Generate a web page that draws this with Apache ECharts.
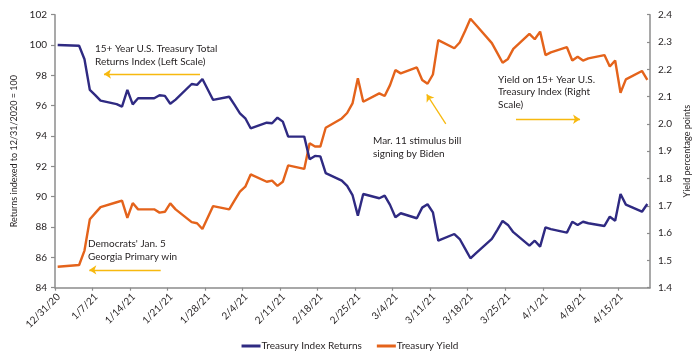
<!DOCTYPE html>
<html>
<head>
<meta charset="utf-8">
<script src="https://cdn.jsdelivr.net/npm/echarts@6/dist/echarts.min.js"></script>
<style>
html,body{margin:0;padding:0;background:#fff;}
#chart{width:700px;height:363px;}
</style>
</head>
<body>
<div id="chart"></div>
<script>
// ---- Data ----
const startDate = '2020-12-31';
const dates = [
  '2020-12-31','2021-01-04','2021-01-05','2021-01-06','2021-01-07','2021-01-08',
  '2021-01-11','2021-01-12','2021-01-13','2021-01-14','2021-01-15',
  '2021-01-18','2021-01-19','2021-01-20','2021-01-21','2021-01-22',
  '2021-01-25','2021-01-26','2021-01-27','2021-01-28','2021-01-29',
  '2021-02-01','2021-02-02','2021-02-03','2021-02-04','2021-02-05',
  '2021-02-08','2021-02-09','2021-02-10','2021-02-11','2021-02-12',
  '2021-02-15','2021-02-16','2021-02-17','2021-02-18','2021-02-19',
  '2021-02-22','2021-02-23','2021-02-24','2021-02-25','2021-02-26',
  '2021-03-01','2021-03-02','2021-03-03','2021-03-04','2021-03-05',
  '2021-03-08','2021-03-09','2021-03-10','2021-03-11','2021-03-12',
  '2021-03-15','2021-03-16','2021-03-17','2021-03-18','2021-03-19',
  '2021-03-22','2021-03-23','2021-03-24','2021-03-25','2021-03-26',
  '2021-03-29','2021-03-30','2021-03-31','2021-04-01','2021-04-02',
  '2021-04-05','2021-04-06','2021-04-07','2021-04-08','2021-04-09',
  '2021-04-12','2021-04-13','2021-04-14','2021-04-15','2021-04-16',
  '2021-04-19','2021-04-20'
];
const treasuryReturns = [
  100.0, 99.95, 99.06, 97.04, 96.7, 96.33,
  96.1, 95.94, 97.04, 96.09, 96.49,
  96.49, 96.69, 96.65, 96.13, 96.4,
  97.43, 97.37, 97.76, 97.07, 96.38,
  96.59, 96.05, 95.5, 95.17, 94.51,
  94.88, 94.84, 95.21, 94.95, 93.96,
  93.96, 92.47, 92.69, 92.66, 91.55,
  91.06, 90.71, 90.11, 88.75, 90.18,
  89.9, 90.07, 89.46, 88.64, 88.91,
  88.58, 89.28, 89.5, 88.97, 87.1,
  87.54, 87.21, 86.58, 85.94, 86.27,
  87.22, 87.8, 88.4, 88.14, 87.66,
  86.77, 87.1, 86.71, 87.98, 87.86,
  87.63, 88.35, 88.14, 88.35, 88.25,
  88.07, 88.68, 88.42, 90.18, 89.48,
  89.01, 89.52
];
const treasuryYield = [
  1.477, 1.483, 1.536, 1.651, 1.673, 1.695,
  1.713, 1.719, 1.656, 1.710, 1.687,
  1.687, 1.675, 1.678, 1.709, 1.687,
  1.640, 1.636, 1.615, 1.657, 1.699,
  1.687, 1.720, 1.752, 1.770, 1.815,
  1.788, 1.792, 1.773, 1.788, 1.848,
  1.835, 1.929, 1.917, 1.917, 1.986,
  2.020, 2.040, 2.075, 2.167, 2.081,
  2.112, 2.102, 2.142, 2.197, 2.185,
  2.207, 2.161, 2.147, 2.181, 2.307,
  2.277, 2.298, 2.340, 2.385, 2.363,
  2.296, 2.260, 2.224, 2.238, 2.275,
  2.330, 2.310, 2.338, 2.252, 2.262,
  2.281, 2.232, 2.246, 2.232, 2.240,
  2.252, 2.210, 2.232, 2.114, 2.163,
  2.194, 2.161
];
const endDate = '2021-04-21';
const seriesNames = ['Treasury Index Returns', 'Treasury Yield'];
const leftTicks = {min: 84, max: 102, step: 2};
const rightTicks = {min: 1.4, max: 2.4, step: 0.1};

// ---- helpers ----
const DAY = 86400000;
function utc(s){ const p = s.split('-').map(Number); return Date.UTC(p[0], p[1]-1, p[2]); }
const t0 = utc(startDate);
function dayNum(s){ return (utc(s) - t0) / DAY; }
function dayLabel(v){
  const d = new Date(t0 + Math.round(v) * DAY);
  return (d.getUTCMonth()+1) + '/' + d.getUTCDate() + '/' + String(d.getUTCFullYear()).slice(2);
}
// points sit in the middle of their day (date axis "between tick marks")
const retData = dates.map((d,i)=>[dayNum(d)+0.5, treasuryReturns[i]]);
const yldData = dates.map((d,i)=>[dayNum(d)+0.5, treasuryYield[i]]);

const FONT = 'Lato';
const TXT = '#231f20';
const AXIS = '#8c8c8c';
const ARROW = '#f7b90f';
const BLUE = '#2f2a82';
const ORANGE = '#e4631b';

function arrow(x1,y1,x2,y2){ return [{coord:[x1,y1]},{coord:[x2,y2]}]; }

const chart = echarts.init(document.getElementById('chart'), null, {renderer:'canvas'});
chart.setOption({
  animation: false,
  backgroundColor: '#fff',
  textStyle: {fontFamily: FONT},
  grid: {left: 55, right: 50, top: 14.7, bottom: 75.3, containLabel: false},
  xAxis: {
    type: 'value', min: 0, max: dayNum(endDate), interval: 7,
    splitLine: {show: false},
    axisLine: {lineStyle: {color: AXIS, width: 1.5}},
    axisTick: {show: true, length: 3, lineStyle: {color: AXIS, width: 1.2}},
    axisLabel: {rotate: 45, margin: 4, fontSize: 10, color: TXT, fontFamily: FONT,
      verticalAlign: 'top', showMaxLabel: false, formatter: v => dayLabel(v)}
  },
  yAxis: [{
    type: 'value', min: leftTicks.min, max: leftTicks.max, interval: leftTicks.step,
    position: 'left',
    name: 'Returns indexed to 12/31/2020 = 100', nameLocation: 'middle', nameGap: 30, nameRotate: 90,
    nameTextStyle: {fontSize: 9, color: TXT, fontFamily: FONT},
    splitLine: {show: false},
    axisLine: {show: true, lineStyle: {color: AXIS, width: 1.5}},
    axisTick: {show: true, length: 4, lineStyle: {color: AXIS, width: 1.2}},
    axisLabel: {fontSize: 10, color: TXT, margin: 8, fontFamily: FONT}
  },{
    type: 'value', min: rightTicks.min, max: rightTicks.max, interval: rightTicks.step,
    position: 'right', alignTicks: false,
    name: 'Yield percentage points', nameLocation: 'middle', nameGap: 27, nameRotate: 90,
    nameTextStyle: {fontSize: 9, color: TXT, fontFamily: FONT},
    splitLine: {show: false},
    axisLine: {show: true, lineStyle: {color: AXIS, width: 1.5}},
    axisTick: {show: true, inside: true, length: 3, lineStyle: {color: AXIS, width: 1.2}},
    axisLabel: {fontSize: 10, color: TXT, margin: 8, fontFamily: FONT, formatter: v => v.toFixed(1)}
  }],
  legend: {
    top: 336, left: 'center', icon: 'rect', itemWidth: 19, itemHeight: 3, itemGap: 15,
    textStyle: {fontSize: 10, color: TXT, fontFamily: FONT, padding: [0,0,0,-4]},
    data: seriesNames
  },
  series: [{
    name: seriesNames[0], type: 'line', yAxisIndex: 0, data: retData,
    showSymbol: false, symbol: 'none', color: BLUE,
    lineStyle: {color: BLUE, width: 2.4}, z: 3,
    markLine: {
      silent: true, symbol: ['none','arrow'], symbolSize: 7,
      lineStyle: {color: ARROW, width: 1.3, type: 'solid'}, label: {show: false},
      data: [ arrow(27.05, 98.09, 9.14, 98.09), arrow(19.72, 85.17, 6.4, 85.17) ]
    }
  },{
    name: seriesNames[1], type: 'line', yAxisIndex: 1, data: yldData,
    showSymbol: false, symbol: 'none', color: ORANGE,
    lineStyle: {color: ORANGE, width: 2.4}, z: 2,
    markLine: {
      silent: true, symbol: ['none','arrow'], symbolSize: 7,
      lineStyle: {color: ARROW, width: 1.3, type: 'solid'}, label: {show: false},
      data: [ arrow(72.9, 2.0, 69.35, 2.108), arrow(86.0, 2.017, 97.95, 2.017) ]
    }
  }],
  graphic: [
    {type:'text', left: 95, top: 42, style:{text:'15+ Year U.S. Treasury Total\nReturns Index (Left Scale)', font:'10px Lato', fill: TXT, lineHeight: 13}},
    {type:'text', left: 88, top: 237, style:{text:"Democrats' Jan. 5\nGeorgia Primary win", font:'10px Lato', fill: TXT, lineHeight: 13}},
    {type:'text', left: 373, top: 135, style:{text:'Mar. 11 stimulus bill\nsigning by Biden', font:'10px Lato', fill: TXT, lineHeight: 12.5}},
    {type:'text', left: 498, top: 73.5, style:{text:'Yield on 15+ Year U.S.\nTreasury Index (Right\nScale)', font:'10px Lato', fill: TXT, lineHeight: 12.5}}
  ]
});
</script>
</body>
</html>
